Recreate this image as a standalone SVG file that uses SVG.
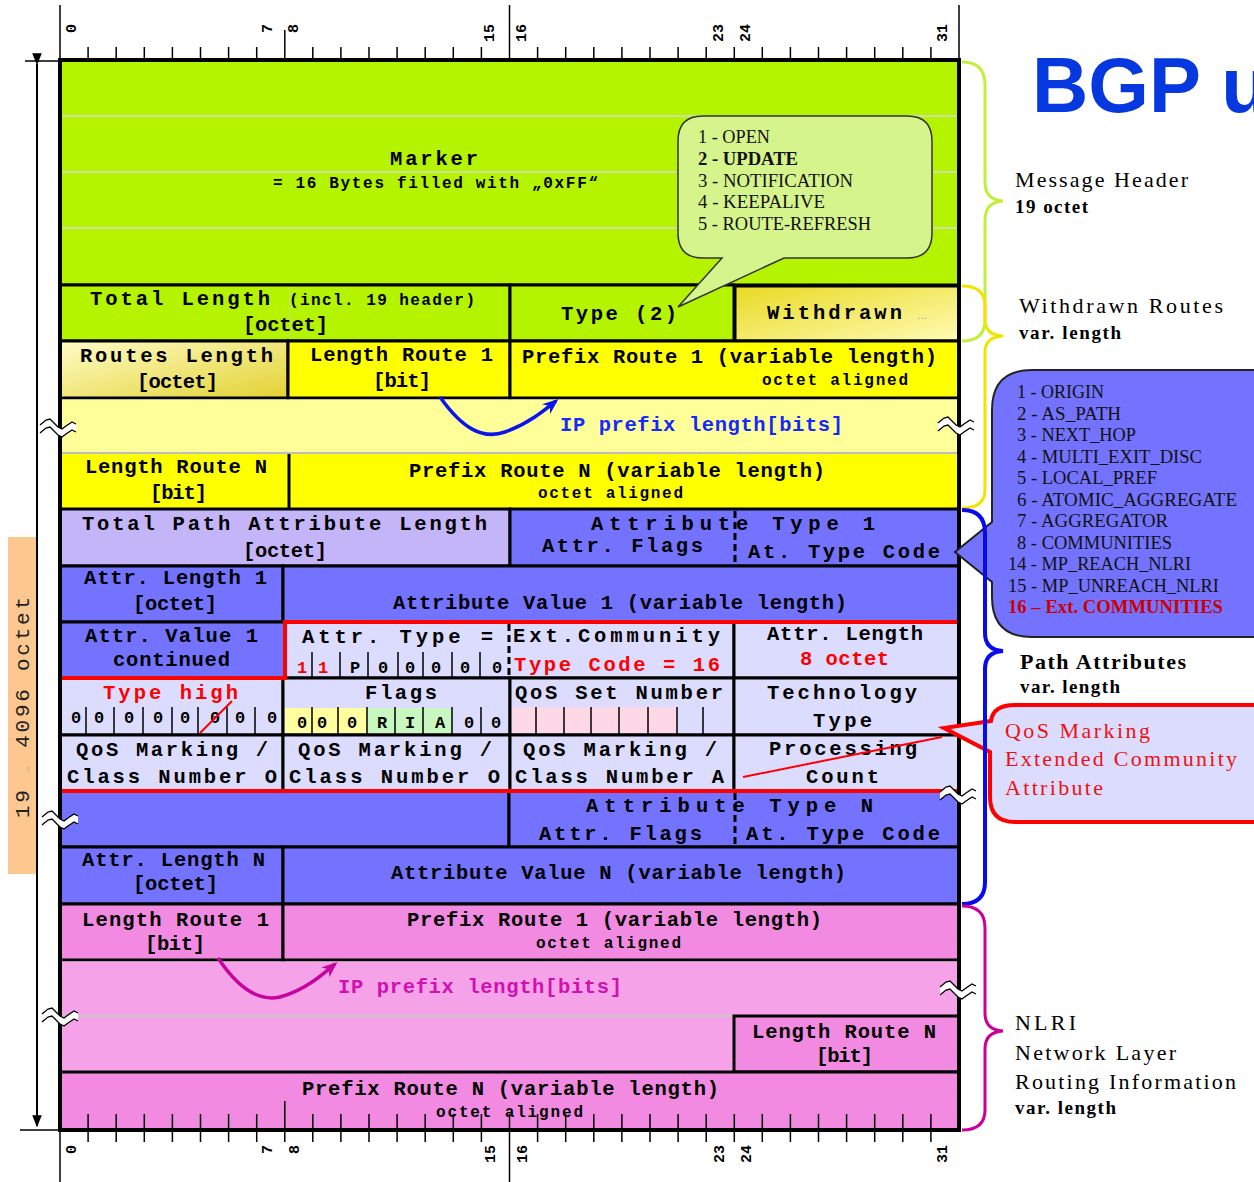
<svg xmlns="http://www.w3.org/2000/svg" width="1254" height="1182" viewBox="0 0 1254 1182">
<style>
.cl{stroke:#000;stroke-width:3}
.g{fill:#b5f400}
.y{fill:#ffff00}
.bl{fill:#7373ff}
.lv{fill:#dcdcff}
.pk{fill:#f28ae2}
.t{font-family:"Liberation Mono","DejaVu Sans Mono",monospace;font-weight:bold;font-size:20.5px;fill:#000}
.s15{font-size:16px}
.bit{font-size:17px;text-anchor:middle}
.red{fill:#ff0000}
.sf{font-family:"Liberation Serif","Times New Roman",serif;font-size:22px;fill:#000}
.sfb{font-weight:bold;font-size:19px}
.co{font-family:"Liberation Serif","Times New Roman",serif;font-size:18px;fill:#111}
.rl{font-family:"Liberation Mono","DejaVu Sans Mono",monospace;font-weight:bold;font-size:15px;fill:#000;text-anchor:end}
.dv{stroke:#000;stroke-width:1.5;fill:none}
.dash{stroke:#000;stroke-width:3;stroke-dasharray:7 4;fill:none}
.wave{fill:none;stroke:#000;stroke-width:1.3}
</style>
<defs>
<linearGradient id="gW" x1="0" y1="0" x2="1" y2="1"><stop offset="0" stop-color="#e8da22"/><stop offset="1" stop-color="#fffbb4"/></linearGradient>
<linearGradient id="gR" x1="0" y1="0" x2="1" y2="1"><stop offset="0" stop-color="#fffcc8"/><stop offset="1" stop-color="#e2d232"/></linearGradient>
<marker id="ab" viewBox="0 0 10 10" refX="8" refY="5" markerUnits="userSpaceOnUse" markerWidth="16" markerHeight="16" orient="auto"><path d="M0,1 L10,5 L0,9 L3,5 z" fill="#0a14ee"/></marker>
<marker id="am" viewBox="0 0 10 10" refX="8" refY="5" markerUnits="userSpaceOnUse" markerWidth="16" markerHeight="16" orient="auto"><path d="M0,1 L10,5 L0,9 L3,5 z" fill="#c8049e"/></marker>
<marker id="ak" viewBox="0 0 10 10" refX="9" refY="5" markerUnits="userSpaceOnUse" markerWidth="12" markerHeight="12" orient="auto"><path d="M0,1 L10,5 L0,9 z" fill="#000"/></marker>
<g id="brk">
<path d="M-18,-1 L-12,-6 L-8,-7 L-4,-3 L0,1 L4,3 L8,0 L14,-4 L18,-2 L18,6 L14,4 L8,8 L4,11 L0,9 L-4,5 L-8,1 L-12,2 L-18,7 Z" fill="#fff"/>
<path class="wave" d="M-18,-1 L-12,-6 L-8,-7 L-4,-3 L0,1 L4,3 L8,0 L14,-4 L18,-2"/>
<path class="wave" d="M-18,7 L-12,2 L-8,1 L-4,5 L0,9 L4,11 L8,8 L14,4 L18,6"/>
</g>
</defs>
<rect width="1254" height="1182" fill="#fff"/>

<g id="marker">
<rect x="60" y="60" width="899" height="225" class="g cl"/>
<path d="M62,116H957M62,172H957M62,228H957" stroke="#d8d8d8" stroke-width="1.5"/>
<text class="t" x="390" y="165" textLength="88" lengthAdjust="spacing">Marker</text>
<text class="t s15" x="273" y="188" textLength="325" lengthAdjust="spacing">= 16 Bytes filled with „0xFF“</text>
</g>

<g id="total-length">
<rect x="60" y="285" width="450" height="56" class="g cl"/>
<path d="M290,287V339" stroke="#cfcfcf" stroke-width="1" stroke-dasharray="3 2"/>
<text class="t" x="90" y="305" textLength="180" lengthAdjust="spacing">Total Length</text>
<text class="t s15" x="289" y="305" textLength="186" lengthAdjust="spacing">(incl. 19 header)</text>
<text class="t" x="243" y="331" textLength="85" lengthAdjust="spacing">[octet]</text>
</g>
<g id="type">
<rect x="510" y="285" width="224" height="56" class="g cl"/>
<text class="t" x="561" y="320" font-size="21" textLength="116" lengthAdjust="spacing">Type (2)</text>
</g>
<g id="withdrawn">
<rect x="735" y="286" width="224" height="55" fill="url(#gW)" class="cl" stroke-width="4"/>
<text class="t" x="767" y="319" textLength="135" lengthAdjust="spacing">Withdrawn</text>
<text x="917" y="319" font-family="Liberation Sans,sans-serif" font-size="10" fill="#999">…</text>
</g>

<g id="routes-length">
<rect x="60" y="341" width="228" height="57" fill="url(#gR)" class="cl"/>
<text class="t" x="80" y="362" textLength="193" lengthAdjust="spacing">Routes Length</text>
<text class="t" x="137" y="388" textLength="81" lengthAdjust="spacing">[octet]</text>
</g>
<g id="length-route-1">
<rect x="288" y="341" width="222" height="57" class="y cl"/>
<text class="t" x="310" y="361" textLength="183" lengthAdjust="spacing">Length Route 1</text>
<text class="t" x="373" y="387" textLength="58" lengthAdjust="spacing">[bit]</text>
</g>
<g id="prefix-route-1">
<rect x="510" y="341" width="449" height="57" class="y cl"/>
<text class="t" x="522" y="363" textLength="415" lengthAdjust="spacing">Prefix Route 1 (variable length)</text>
<text class="t s15" x="762" y="385" textLength="146" lengthAdjust="spacing">octet aligned</text>
</g>

<g id="ip-prefix-withdrawn">
<rect x="60" y="399.5" width="899" height="53.5" fill="#ffff99"/>
<text class="t" x="560" y="431" style="fill:#1428ff" textLength="283" lengthAdjust="spacing">IP prefix length[bits]</text>
</g>

<g id="length-route-n">
<rect x="60" y="453" width="899" height="56" fill="#ffff00"/>
<path d="M289,453V509" class="cl"/>
<text class="t" x="85" y="473" textLength="182" lengthAdjust="spacing">Length Route N</text>
<text class="t" x="150" y="499" textLength="57" lengthAdjust="spacing">[bit]</text>
</g>
<g id="prefix-route-n">
<text class="t" x="409" y="477" textLength="416" lengthAdjust="spacing">Prefix Route N (variable length)</text>
<text class="t s15" x="538" y="498" textLength="145" lengthAdjust="spacing">octet aligned</text>
</g>
<path d="M60,453H959" stroke="#bdbdbd" stroke-width="2"/>

<g id="total-path-attr-length">
<rect x="60" y="509" width="450" height="57" fill="#c4b4f8" class="cl"/>
<text class="t" x="82" y="530" textLength="405" lengthAdjust="spacing">Total Path Attribute Length</text>
<text class="t" x="243" y="557" textLength="84" lengthAdjust="spacing">[octet]</text>
</g>
<g id="attr-type-1">
<rect x="510" y="509" width="449" height="57" class="bl cl"/>
<text class="t" x="591" y="530" textLength="284" lengthAdjust="spacing">Attribute Type 1</text>
<path d="M735,511V564" class="dash"/>
<text class="t" x="542" y="552" textLength="161" lengthAdjust="spacing">Attr. Flags</text>
<text class="t" x="748" y="558" textLength="192" lengthAdjust="spacing">At. Type Code</text>
</g>
<g id="attr-length-1">
<rect x="60" y="566" width="223" height="56" class="bl cl"/>
<text class="t" x="84" y="584" textLength="183" lengthAdjust="spacing">Attr. Length 1</text>
<text class="t" x="133" y="610" textLength="84" lengthAdjust="spacing">[octet]</text>
</g>
<g id="attr-value-1">
<rect x="283" y="566" width="676" height="56" class="bl cl"/>
<text class="t" x="393" y="609" textLength="454" lengthAdjust="spacing">Attribute Value 1 (variable length)</text>
</g>
<g id="attr-value-1-cont">
<rect x="60" y="622" width="225" height="56" class="bl cl"/>
<text class="t" x="85" y="642" textLength="173" lengthAdjust="spacing">Attr. Value 1</text>
<text class="t" x="113" y="666" textLength="117" lengthAdjust="spacing">continued</text>
</g>
<g id="ext-comm-type">
<rect x="285" y="622" width="449" height="56" class="lv cl"/>
<path class="dv" d="M312,652V678M340,652V678M368,652V678M398,652V678M423,652V678M452,652V678M480,652V678"/>
<path d="M509,624V676" class="dash"/>
<text class="t" x="302" y="643" textLength="191" lengthAdjust="spacing">Attr. Type =</text>
<text class="t" x="513" y="642" textLength="207" lengthAdjust="spacing">Ext.Community</text>
<text class="t bit red" x="302" y="673">1</text>
<text class="t bit red" x="323" y="673">1</text>
<text class="t bit" x="355" y="673">P</text>
<text class="t bit" x="383" y="673">0</text>
<text class="t bit" x="410" y="673">0</text>
<text class="t bit" x="436" y="673">0</text>
<text class="t bit" x="465" y="673">0</text>
<text class="t bit" x="497" y="673">0</text>
<text class="t red" x="514" y="671" textLength="206" lengthAdjust="spacing">Type Code = 16</text>
</g>
<g id="ext-comm-length">
<rect x="734" y="622" width="225" height="56" class="lv cl"/>
<text class="t" x="767" y="640" textLength="156" lengthAdjust="spacing">Attr. Length</text>
<text class="t red" x="800" y="665" textLength="89" lengthAdjust="spacing">8 octet</text>
</g>
<g id="type-high">
<rect x="60" y="678" width="223" height="57" class="lv cl"/>
<path class="dv" d="M86,707V735M114,707V735M143,707V735M172,707V735M198,707V735M227,707V735M255,707V735"/>
<text class="t red" x="103" y="699" textLength="135" lengthAdjust="spacing">Type high</text>
<text class="t bit" x="76" y="723">0</text>
<text class="t bit" x="99" y="723">0</text>
<text class="t bit" x="129" y="723">0</text>
<text class="t bit" x="158" y="723">0</text>
<text class="t bit" x="185" y="723">0</text>
<text class="t bit" x="215" y="723">0</text>
<text class="t bit" x="240" y="723">0</text>
<text class="t bit" x="272" y="723">0</text>
<path d="M200,733L232,701" stroke="#ff0000" stroke-width="2"/>
</g>
<g id="flags">
<rect x="283" y="678" width="227" height="57" class="lv cl"/>
<rect x="285" y="708" width="82" height="25" fill="#ffffa0"/>
<rect x="367" y="708" width="85" height="25" fill="#c8f8c0"/>
<path class="dv" d="M312,707V735M338,707V735M367,707V735M395,707V735M423,707V735M452,707V735M481,707V735"/>
<text class="t" x="365" y="699" textLength="72" lengthAdjust="spacing">Flags</text>
<text class="t bit" x="302" y="728">0</text>
<text class="t bit" x="322" y="728">0</text>
<text class="t bit" x="352" y="728">0</text>
<text class="t bit" x="382" y="728">R</text>
<text class="t bit" x="410" y="728">I</text>
<text class="t bit" x="440" y="728">A</text>
<text class="t bit" x="469" y="728">0</text>
<text class="t bit" x="496" y="728">0</text>
</g>
<g id="qos-set-number">
<rect x="510" y="678" width="224" height="57" class="lv cl"/>
<rect x="512" y="707" width="165" height="26" fill="#ffd8e8"/>
<path class="dv" d="M536,707V735M564,707V735M591,707V735M619,707V735M648,707V735M677,707V735M703,707V735"/>
<text class="t" x="515" y="699" textLength="208" lengthAdjust="spacing">QoS Set Number</text>
</g>
<g id="technology-type">
<rect x="734" y="678" width="225" height="57" class="lv cl"/>
<text class="t" x="767" y="699" textLength="150" lengthAdjust="spacing">Technology</text>
<text class="t" x="813" y="727" textLength="59" lengthAdjust="spacing">Type</text>
</g>
<g id="qos-marking-o-1">
<rect x="60" y="735" width="223" height="56" class="lv cl"/>
<text class="t" x="76" y="756" textLength="192" lengthAdjust="spacing">QoS Marking /</text>
<text class="t" x="67" y="783" textLength="210" lengthAdjust="spacing">Class Number O</text>
</g>
<g id="qos-marking-o-2">
<rect x="283" y="735" width="227" height="56" class="lv cl"/>
<text class="t" x="298" y="756" textLength="194" lengthAdjust="spacing">QoS Marking /</text>
<text class="t" x="289" y="783" textLength="211" lengthAdjust="spacing">Class Number O</text>
</g>
<g id="qos-marking-a">
<rect x="510" y="735" width="224" height="56" class="lv cl"/>
<text class="t" x="523" y="756" textLength="194" lengthAdjust="spacing">QoS Marking /</text>
<text class="t" x="515" y="783" textLength="209" lengthAdjust="spacing">Class Number A</text>
</g>
<g id="processing-count">
<rect x="734" y="735" width="225" height="56" class="lv cl"/>
<text class="t" x="769" y="755" textLength="148" lengthAdjust="spacing">Processing</text>
<text class="t" x="806" y="783" textLength="73" lengthAdjust="spacing">Count</text>
<path d="M743,777L942,737" stroke="#ff0000" stroke-width="2"/>
</g>
<g id="attr-n-pad">
<rect x="60" y="791" width="449" height="56" class="bl cl"/>
</g>
<g id="attr-type-n">
<rect x="509" y="791" width="450" height="56" class="bl cl"/>
<text class="t" x="586" y="812" textLength="287" lengthAdjust="spacing">Attribute Type N</text>
<path d="M735,793V845" class="dash"/>
<text class="t" x="539" y="840" textLength="163" lengthAdjust="spacing">Attr. Flags</text>
<text class="t" x="746" y="840" textLength="194" lengthAdjust="spacing">At. Type Code</text>
</g>
<g id="attr-length-n">
<rect x="60" y="847" width="223" height="57" class="bl cl"/>
<text class="t" x="82" y="866" textLength="183" lengthAdjust="spacing">Attr. Length N</text>
<text class="t" x="133" y="890" textLength="85" lengthAdjust="spacing">[octet]</text>
</g>
<g id="attr-value-n">
<rect x="283" y="847" width="676" height="57" class="bl cl"/>
<text class="t" x="391" y="879" textLength="455" lengthAdjust="spacing">Attribute Value N (variable length)</text>
</g>

<g id="nlri-length-route-1">
<rect x="60" y="904" width="223" height="56" class="pk cl"/>
<text class="t" x="82" y="926" textLength="187" lengthAdjust="spacing">Length Route 1</text>
<text class="t" x="145" y="950" textLength="60" lengthAdjust="spacing">[bit]</text>
</g>
<g id="nlri-prefix-route-1">
<rect x="283" y="904" width="676" height="56" class="pk cl"/>
<text class="t" x="407" y="926" textLength="415" lengthAdjust="spacing">Prefix Route 1 (variable length)</text>
<text class="t s15" x="536" y="948" textLength="145" lengthAdjust="spacing">octet aligned</text>
</g>
<g id="ip-prefix-nlri">
<rect x="60" y="961.5" width="899" height="110.5" fill="#f6a2e8"/>
<text class="t" x="338" y="993" style="fill:#d010b0" textLength="284" lengthAdjust="spacing">IP prefix length[bits]</text>
</g>
<path d="M60,1016H734" stroke="#c8c8c8" stroke-width="2"/>
<g id="nlri-length-route-n">
<rect x="734" y="1016" width="225" height="56" class="pk cl"/>
<text class="t" x="752" y="1038" textLength="184" lengthAdjust="spacing">Length Route N</text>
<text class="t" x="816" y="1062" textLength="57" lengthAdjust="spacing">[bit]</text>
</g>
<g id="nlri-prefix-route-n">
<rect x="60" y="1072" width="899" height="58" class="pk cl"/>
<text class="t" x="302" y="1095" textLength="417" lengthAdjust="spacing">Prefix Route N (variable length)</text>
<text class="t s15" x="436" y="1117" textLength="147" lengthAdjust="spacing">octet aligned</text>
</g>

<path d="M285,622H959V791H60V678H285Z" fill="none" stroke="#ff0000" stroke-width="4"/>
<rect x="60" y="60" width="899" height="1070" fill="none" stroke="#000" stroke-width="4"/>

<g id="ruler-top">
<path d="M60,5V60M509.5,5V60M959,5V60M284.8,30V60" stroke="#000" stroke-width="1.5"/>
<path d="M88.1,47V60M116.2,47V60M144.3,47V60M172.4,47V60M200.5,47V60M228.6,47V60M256.7,47V60M312.8,47V60M340.9,47V60M369,47V60M397.1,47V60M425.2,47V60M453.3,47V60M481.4,47V60M537.6,47V60M565.7,47V60M593.8,47V60M621.9,47V60M650,47V60M678.1,47V60M706.2,47V60M734.3,47V60M762.3,47V60M790.4,47V60M818.5,47V60M846.6,47V60M874.7,47V60M902.8,47V60M930.9,47V60" stroke="#000" stroke-width="1.5"/>
<text class="rl" transform="translate(76,24) rotate(-90)">0</text>
<text class="rl" transform="translate(272,24) rotate(-90)">7</text>
<text class="rl" transform="translate(298,24) rotate(-90)">8</text>
<text class="rl" transform="translate(494,24) rotate(-90)">15</text>
<text class="rl" transform="translate(526,24) rotate(-90)">16</text>
<text class="rl" transform="translate(723,24) rotate(-90)">23</text>
<text class="rl" transform="translate(750,24) rotate(-90)">24</text>
<text class="rl" transform="translate(947,24) rotate(-90)">31</text>
</g>
<g id="ruler-bottom">
<path d="M60,1130V1182M509.5,1114V1182M284.8,1101V1142" stroke="#000" stroke-width="1.5"/>
<path d="M88.1,1114V1142M116.2,1114V1142M144.3,1114V1142M172.4,1114V1142M200.5,1114V1142M228.6,1114V1142M256.7,1114V1142M312.8,1114V1142M340.9,1114V1142M369,1114V1142M397.1,1114V1142M425.2,1114V1142M453.3,1114V1142M481.4,1114V1142M537.6,1114V1142M565.7,1114V1142M593.8,1114V1142M621.9,1114V1142M650,1114V1142M678.1,1114V1142M706.2,1114V1142M734.3,1114V1142M762.3,1114V1142M790.4,1114V1142M818.5,1114V1142M846.6,1114V1142M874.7,1114V1142M902.8,1114V1142M930.9,1114V1142" stroke="#000" stroke-width="1.5"/>
<text class="rl" transform="translate(76,1145) rotate(-90)">0</text>
<text class="rl" transform="translate(272,1145) rotate(-90)">7</text>
<text class="rl" transform="translate(299,1145) rotate(-90)">8</text>
<text class="rl" transform="translate(495,1145) rotate(-90)">15</text>
<text class="rl" transform="translate(527,1145) rotate(-90)">16</text>
<text class="rl" transform="translate(724,1145) rotate(-90)">23</text>
<text class="rl" transform="translate(751,1145) rotate(-90)">24</text>
<text class="rl" transform="translate(947,1145) rotate(-90)">31</text>
</g>

<g id="size-arrow">
<path d="M25,61H60M20,1130H60" stroke="#000" stroke-width="1.5"/>
<path d="M37,64V1126" stroke="#000" stroke-width="2" marker-start="url(#ak)" marker-end="url(#ak)"/>
</g>
<g id="size-label">
<rect x="8" y="537" width="28" height="337" fill="#fcc890"/>
<text transform="translate(29,818) rotate(-90)" font-family="Liberation Mono,monospace" font-size="21" fill="#222" textLength="221" lengthAdjust="spacing">19 <tspan font-size="10" fill="#999">…</tspan> 4096 octet</text>
</g>

<g id="msg-type-callout">
<path d="M703,116H907Q932,116 932,141V233Q932,258 907,258H784L678,307L722,258H703Q678,258 678,233V141Q678,116 703,116Z" fill="#d6f48c" stroke="#333" stroke-width="1.5"/>
<text class="co" x="698" y="143" textLength="72" lengthAdjust="spacingAndGlyphs">1 - OPEN</text>
<text class="co" x="698" y="165" font-weight="bold" textLength="100" lengthAdjust="spacingAndGlyphs">2 - UPDATE</text>
<text class="co" x="698" y="187" textLength="155" lengthAdjust="spacingAndGlyphs">3 - NOTIFICATION</text>
<text class="co" x="698" y="208" textLength="127" lengthAdjust="spacingAndGlyphs">4 - KEEPALIVE</text>
<text class="co" x="698" y="230" textLength="173" lengthAdjust="spacingAndGlyphs">5 - ROUTE-REFRESH</text>
</g>

<g id="attr-type-callout">
<path d="M1032,370H1280V637H1032Q992,637 992,597V582L955,552L992,522V410Q992,370 1032,370Z" fill="#7373ff" stroke="#222" stroke-width="2"/>
<g class="co" font-size="19">
<text x="1017" y="398" textLength="87" lengthAdjust="spacingAndGlyphs">1 - ORIGIN</text>
<text x="1017" y="419.5" textLength="104" lengthAdjust="spacingAndGlyphs">2 - AS_PATH</text>
<text x="1017" y="441" textLength="119" lengthAdjust="spacingAndGlyphs">3 - NEXT_HOP</text>
<text x="1017" y="462.5" textLength="185" lengthAdjust="spacingAndGlyphs">4 - MULTI_EXIT_DISC</text>
<text x="1017" y="484" textLength="140" lengthAdjust="spacingAndGlyphs">5 - LOCAL_PREF</text>
<text x="1017" y="505.5" textLength="220" lengthAdjust="spacingAndGlyphs">6 - ATOMIC_AGGREGATE</text>
<text x="1017" y="527" textLength="151" lengthAdjust="spacingAndGlyphs">7 - AGGREGATOR</text>
<text x="1017" y="548.5" textLength="155" lengthAdjust="spacingAndGlyphs">8 - COMMUNITIES</text>
<text x="1008" y="570" textLength="183" lengthAdjust="spacingAndGlyphs">14 - MP_REACH_NLRI</text>
<text x="1008" y="591.5" textLength="211" lengthAdjust="spacingAndGlyphs">15 - MP_UNREACH_NLRI</text>
<text x="1008" y="613" font-weight="bold" style="fill:#cc0000" textLength="215" lengthAdjust="spacingAndGlyphs">16 – Ext. COMMUNITIES</text>
</g>
</g>

<g id="qos-callout">
<path d="M1015,705H1280V822H1015Q990,822 990,797V752L944,728L991,721Q993,705 1015,705Z" fill="#dcdcff" stroke="#ff0000" stroke-width="4"/>
<text class="sf" x="1005" y="738" style="fill:#ee1111" textLength="145" lengthAdjust="spacing">QoS Marking</text>
<text class="sf" x="1005" y="766" style="fill:#ee1111" textLength="232" lengthAdjust="spacing">Extended Community</text>
<text class="sf" x="1005" y="795" style="fill:#ee1111" textLength="98" lengthAdjust="spacing">Attribute</text>
</g>

<g id="connectors" fill="none">
<path d="M962,62Q985,62 985,85V182Q985,200 1003,201Q985,202 985,220V320Q985,341 962,341" stroke="#c2f03a" stroke-width="3"/>
<path d="M962,286Q985,286 985,306V320Q985,335 1003,336Q985,337 985,352V490Q985,508 962,508" stroke="#f2e400" stroke-width="3"/>
<path d="M962,510Q985,510 985,533V633Q985,650 1003,651Q985,652 985,669V882Q985,904 962,904" stroke="#0a0aee" stroke-width="4"/>
<path d="M962,906Q985,906 985,928V1013Q985,1030 1003,1031Q985,1032 985,1049V1110Q985,1130 962,1130" stroke="#cc0099" stroke-width="3"/>
<path d="M440,397C462,428 482,440 505,432C528,424 545,410 556,401" stroke="#0a14ee" stroke-width="3.5" marker-end="url(#ab)"/>
<path d="M218,958C238,988 258,1002 280,997C305,990 322,975 335,964" stroke="#c8049e" stroke-width="3.5" marker-end="url(#am)"/>
</g>

<g id="label-header">
<text class="sf" x="1015" y="187" textLength="173" lengthAdjust="spacing">Message Header</text>
<text class="sf sfb" x="1015" y="213" textLength="73" lengthAdjust="spacing">19 octet</text>
</g>
<g id="label-withdrawn">
<text class="sf" x="1019" y="313" textLength="204" lengthAdjust="spacing">Withdrawn Routes</text>
<text class="sf sfb" x="1019" y="339" textLength="102" lengthAdjust="spacing">var. length</text>
</g>
<g id="label-path">
<text class="sf" x="1020" y="669" font-weight="bold" textLength="166" lengthAdjust="spacing">Path Attributes</text>
<text class="sf sfb" x="1020" y="693" textLength="100" lengthAdjust="spacing">var. length</text>
</g>
<g id="label-nlri">
<text class="sf" x="1015" y="1030" textLength="61" lengthAdjust="spacing">NLRI</text>
<text class="sf" x="1015" y="1060" textLength="161" lengthAdjust="spacing">Network Layer</text>
<text class="sf" x="1015" y="1089" textLength="221" lengthAdjust="spacing">Routing Information</text>
<text class="sf sfb" x="1015" y="1114" textLength="101" lengthAdjust="spacing">var. length</text>
</g>

<use href="#brk" x="58" y="426"/>
<use href="#brk" x="956" y="424"/>
<use href="#brk" x="958" y="793"/>
<use href="#brk" x="60" y="818"/>
<use href="#brk" x="958" y="988"/>
<use href="#brk" x="60" y="1015"/>

<text x="1032" y="112" font-family="Liberation Sans,Arial,sans-serif" font-weight="bold" font-size="78" fill="#0638e0">BGP u</text>
</svg>
